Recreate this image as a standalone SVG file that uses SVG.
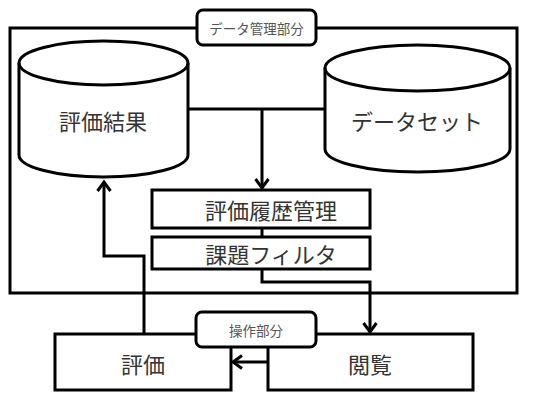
<svg xmlns="http://www.w3.org/2000/svg" width="545" height="409" viewBox="0 0 545 409">
<defs>
<marker id="arr" markerUnits="userSpaceOnUse" markerWidth="16" markerHeight="16" refX="10" refY="8" orient="auto">
<path d="M1,1.5 L10,8 L1,14.5" fill="none" stroke="#000" stroke-width="3"/>
</marker>
<style>
.s{fill:#fff;stroke:#000;stroke-width:3}
.c{fill:none;stroke:#000;stroke-width:3}
.t{font-family:"Noto Sans CJK JP","Noto Sans",sans-serif;fill:#333;text-anchor:middle;dominant-baseline:central}
.big{font-size:22px}
.mid{font-size:22px}
.lab{font-size:13.5px;fill:#555}
</style>
</defs>
<rect width="545" height="409" fill="#fff"/>
<g id="data-part">
<rect class="s" x="10" y="28" width="507" height="265"/>
</g>
<g id="hyoka-kekka">
<path class="s" d="M19,63 L19,155 A84.5,22 0 0,0 188,155 L188,63 A84.5,22 0 0,0 19,63 Z"/>
<path class="c" d="M19,63 A84.5,22 0 0,0 188,63"/>
<text class="t big" x="103" y="120">評価結果</text>
</g>
<g id="dataset">
<path class="s" d="M325,68 L325,149 A92.5,23 0 0,0 510,149 L510,68 A92.5,23 0 0,0 325,68 Z"/>
<path class="c" d="M325,68 A92.5,23 0 0,0 510,68"/>
<text class="t big" x="417" y="120">データセット</text>
</g>
<g id="rireki">
<rect class="s" x="152" y="190" width="218" height="38"/>
<text class="t mid" x="271" y="209">評価履歴管理</text>
</g>
<g id="filter">
<rect class="s" x="152" y="237" width="218" height="32"/>
<text class="t mid" x="271" y="253">課題フィルタ</text>
</g>
<g id="hyoka">
<rect class="s" x="55" y="334" width="176" height="56"/>
<text class="t big" x="143" y="363">評価</text>
</g>
<g id="etsuran">
<rect class="s" x="268" y="334" width="205" height="56"/>
<text class="t big" x="370" y="363">閲覧</text>
</g>
<g id="connectors">
<path class="c" d="M188,109 L325,109"/>
<path class="c" d="M262,109 L262,188" marker-end="url(#arr)"/>
<path class="c" d="M262,228 L262,237"/>
<path class="c" d="M262,269 L262,282 L370,282 L370,332" marker-end="url(#arr)"/>
<path class="c" d="M144,334 L144,256 L104,256 L104,182" marker-end="url(#arr)"/>
<path class="c" d="M268,362 L233,362" marker-end="url(#arr)"/>
</g>
<g id="label-data">
<rect class="s" x="197" y="10" width="119" height="35" rx="6"/>
<text class="t lab" x="256.5" y="27.5">データ管理部分</text>
</g>
<g id="label-sousa">
<rect class="s" x="196" y="312" width="120" height="35" rx="6"/>
<text class="t lab" x="256" y="329.5">操作部分</text>
</g>
</svg>
